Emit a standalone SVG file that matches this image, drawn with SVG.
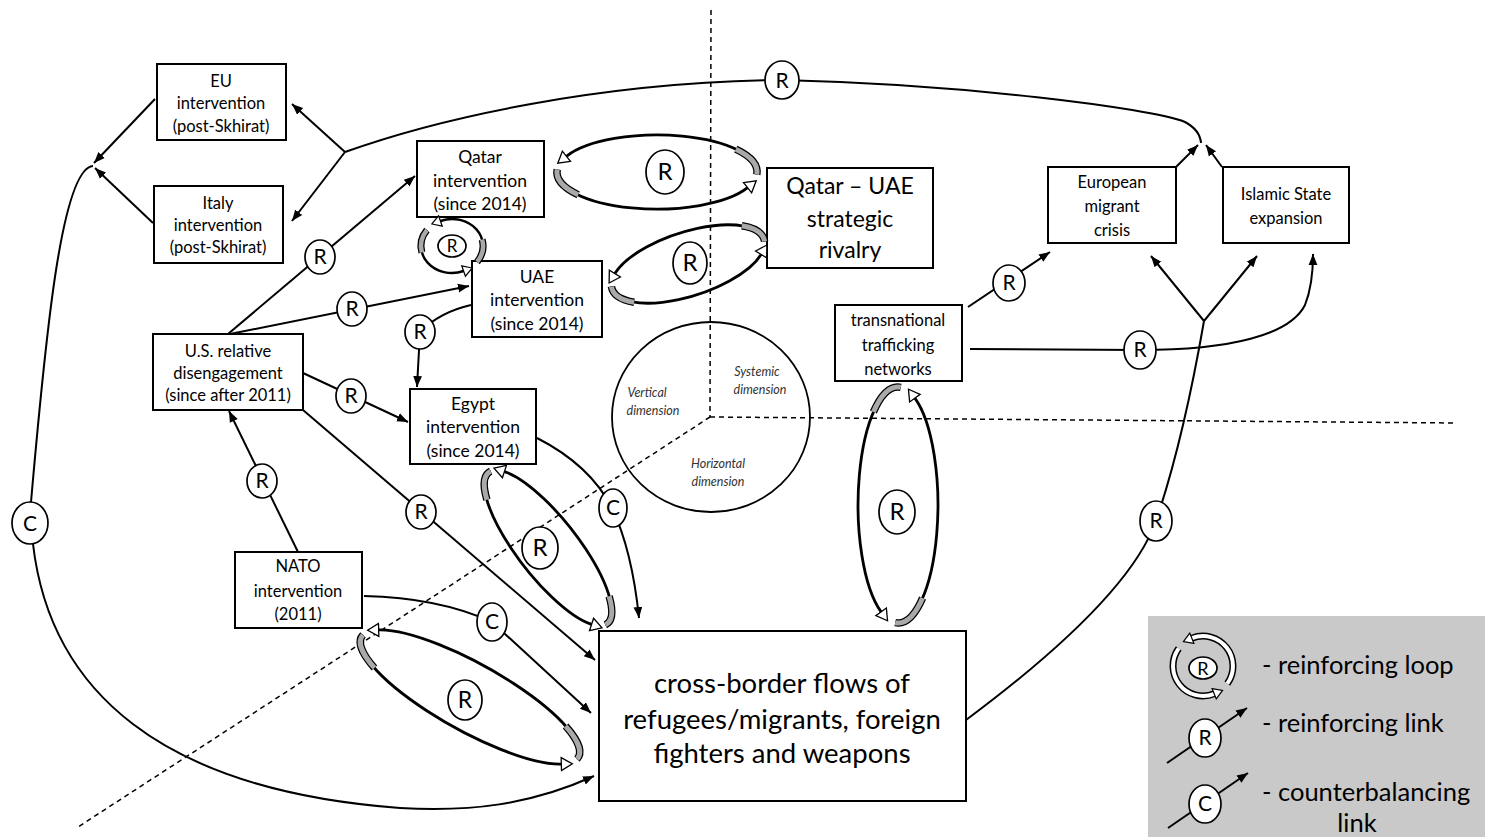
<svg xmlns="http://www.w3.org/2000/svg" width="1485" height="837" viewBox="0 0 1485 837">
<style>
.bg{fill:#fff}
.box{fill:#fff;stroke:#000;stroke-width:2}
.t{font-family:Lato,'Open Sans','Liberation Sans',sans-serif;fill:#000;text-anchor:middle}
.s15{font-size:16.5px}
.s16{font-size:17.5px}
.dim{font-family:Lato,'Open Sans','Liberation Sans',sans-serif;font-style:italic;font-size:12.5px;fill:#333;text-anchor:middle}
.ln{fill:none;stroke:#000;stroke-width:2}
.arr{marker-end:url(#ah)}
.dash{fill:none;stroke:#000;stroke-width:1.5;stroke-dasharray:5 4}
.rc{fill:#fff;stroke:#000;stroke-width:1.7}
.rt{font-family:Lato,'Open Sans','Liberation Sans',sans-serif;font-size:21px;fill:#000;text-anchor:middle}
.la{fill:none;stroke:#000;stroke-width:2.8;marker-end:url(#lh)}
.lto{fill:none;stroke:#000;stroke-width:7.5}
.lti{fill:none;stroke:#a9a9a9;stroke-width:5}
.lwi{fill:none;stroke:#fff;stroke-width:4.5}
.leg{font-family:Lato,'Open Sans','Liberation Sans',sans-serif;font-size:25.5px;fill:#000}
</style>
<defs>
<marker id="ah" viewBox="0 0 10 10" refX="10" refY="5" markerWidth="11" markerHeight="11" markerUnits="userSpaceOnUse" orient="auto"><path d="M0,1 L10,5 L0,9 Z" fill="#000"/></marker>
<marker id="lh" viewBox="-1 -8 14 16" refX="0" refY="0" markerWidth="14" markerHeight="16" markerUnits="userSpaceOnUse" orient="auto"><path d="M0,-6.5 L11,0 L0,6.5 Z" fill="#fff" stroke="#000" stroke-width="1.3"/></marker>
<marker id="lhs" viewBox="-1 -7 12 14" refX="0" refY="0" markerWidth="12" markerHeight="14" markerUnits="userSpaceOnUse" orient="auto"><path d="M0,-5.5 L9,0 L0,5.5 Z" fill="#fff" stroke="#000" stroke-width="1.2"/></marker>
</defs>
<rect class="bg" x="0" y="0" width="1485" height="837"/>

<g id="axes">
<path class="dash" d="M711,10 L710,417"/>
<path class="dash" d="M710,417 L1457,423"/>
<path class="dash" d="M710,417 L78,827"/>
<ellipse cx="711" cy="417" rx="99" ry="95" fill="none" stroke="#000" stroke-width="1.8"/>
<text class="dim" x="647" y="397">Vertical</text>
<text class="dim" x="653" y="415">dimension</text>
<text class="dim" x="757" y="376">Systemic</text>
<text class="dim" x="760" y="394">dimension</text>
<text class="dim" x="718" y="468">Horizontal</text>
<text class="dim" x="718" y="486">dimension</text>
</g>

<g id="connectors">
<path class="ln" d="M345,152 C440,118 600,82 782,80 C960,84 1150,108 1185,122 Q1200,130 1201,143"/>
<path class="ln arr" d="M345,152 L292,104"/>
<path class="ln arr" d="M345,152 L292,221"/>
<path class="ln arr" d="M155,99 L94,163"/>
<path class="ln arr" d="M153,223 L95,168"/>
<path class="ln" d="M93,166 C62,168 46,330 31,502"/>
<path class="ln" d="M33,544 C50,690 160,790 400,808 C470,812 530,805 594,776" marker-end="url(#ah)"/>
<path class="ln arr" d="M228,334 L415,176"/>
<path class="ln arr" d="M230,334 L469,286"/>
<path class="ln arr" d="M471,305 Q440,312 420,332 L417,387"/>
<path class="ln arr" d="M303,373 L408,422"/>
<path class="ln arr" d="M303,410 L595,660"/>
<path class="ln arr" d="M298,552 L229,411"/>
<path class="ln arr" d="M364,596 C410,597 455,605 492,622 L591,713"/>
<path class="ln arr" d="M537,438 Q590,465 612,508 Q632,550 639,618"/>
<path class="ln arr" d="M968,307 L1050,252"/>
<path class="ln arr" d="M970,349 L1140,350 C1230,350 1290,335 1305,305 Q1313,285 1313,254"/>
<path class="ln" d="M966,720 C1060,650 1135,580 1156,521 C1175,465 1192,390 1204,321"/>
<path class="ln arr" d="M1204,321 L1151,256"/>
<path class="ln arr" d="M1204,321 L1257,256"/>
<path class="ln arr" d="M1176,167 L1198,145"/>
<path class="ln arr" d="M1222,167 L1206,145"/>

<ellipse class="rc" cx="782" cy="80" rx="17" ry="19"/><text class="rt" x="782" y="88">R</text>
<ellipse class="rc" cx="30" cy="523" rx="18" ry="21"/><text class="rt" x="30" y="531">C</text>
<ellipse class="rc" cx="320" cy="257" rx="15" ry="17"/><text class="rt" x="320" y="264">R</text>
<ellipse class="rc" cx="352" cy="309" rx="15" ry="17"/><text class="rt" x="352" y="316">R</text>
<ellipse class="rc" cx="420" cy="332" rx="15" ry="17"/><text class="rt" x="420" y="339">R</text>
<ellipse class="rc" cx="351" cy="396" rx="15" ry="17"/><text class="rt" x="351" y="403">R</text>
<ellipse class="rc" cx="421" cy="512" rx="15" ry="17"/><text class="rt" x="421" y="519">R</text>
<ellipse class="rc" cx="262" cy="481" rx="15" ry="17"/><text class="rt" x="262" y="488">R</text>
<ellipse class="rc" cx="492" cy="622" rx="15" ry="19"/><text class="rt" x="492" y="629">C</text>
<ellipse class="rc" cx="613" cy="508" rx="14" ry="19"/><text class="rt" x="613" y="515">C</text>
<ellipse class="rc" cx="1009" cy="283" rx="16" ry="18"/><text class="rt" x="1009" y="290">R</text>
<ellipse class="rc" cx="1140" cy="350" rx="16" ry="19"/><text class="rt" x="1140" y="357">R</text>
<ellipse class="rc" cx="1156" cy="521" rx="16" ry="20"/><text class="rt" x="1156" y="528">R</text>
</g>

<g id="eu"><rect class="box" x="157" y="64" width="129" height="76"/>
<text class="t s15" x="221" y="87">EU</text><text class="t s15" x="221" y="109">intervention</text><text class="t s15" x="221" y="132">(post-Skhirat)</text></g>
<g id="italy"><rect class="box" x="154" y="186" width="129" height="77"/>
<text class="t s15" x="218" y="209">Italy</text><text class="t s15" x="218" y="231">intervention</text><text class="t s15" x="218" y="253">(post-Skhirat)</text></g>
<g id="qatar"><rect class="box" x="417" y="141" width="127" height="76"/>
<text class="t s16" x="480" y="163">Qatar</text><text class="t s16" x="480" y="187">intervention</text><text class="t s16" x="480" y="210">(since 2014)</text></g>
<g id="uae"><rect class="box" x="472" y="261" width="130" height="76"/>
<text class="t s16" x="537" y="283">UAE</text><text class="t s16" x="537" y="306">intervention</text><text class="t s16" x="537" y="330">(since 2014)</text></g>
<g id="rivalry"><rect class="box" x="767" y="168" width="166" height="100"/>
<text class="t" style="font-size:23px" x="850" y="194">Qatar – UAE</text><text class="t" style="font-size:23px" x="850" y="227">strategic</text><text class="t" style="font-size:23px" x="850" y="258">rivalry</text></g>
<g id="us"><rect class="box" x="153" y="334" width="150" height="76"/>
<text class="t s15" x="228" y="357">U.S. relative</text><text class="t s15" x="228" y="379">disengagement</text><text class="t s15" x="228" y="401">(since after 2011)</text></g>
<g id="egypt"><rect class="box" x="410" y="389" width="126" height="75"/>
<text class="t s16" x="473" y="410">Egypt</text><text class="t s16" x="473" y="433">intervention</text><text class="t s16" x="473" y="457">(since 2014)</text></g>
<g id="nato"><rect class="box" x="235" y="552" width="127" height="76"/>
<text class="t s15" x="298" y="572">NATO</text><text class="t s15" x="298" y="597">intervention</text><text class="t s15" x="298" y="620">(2011)</text></g>
<g id="trafficking"><rect class="box" x="835" y="305" width="127" height="76"/>
<text class="t s15" x="898" y="326">transnational</text><text class="t s15" x="898" y="351">trafficking</text><text class="t s15" x="898" y="375">networks</text></g>
<g id="european"><rect class="box" x="1048" y="167" width="128" height="76"/>
<text class="t s15" x="1112" y="188">European</text><text class="t s15" x="1112" y="212">migrant</text><text class="t s15" x="1112" y="236">crisis</text></g>
<g id="islamic"><rect class="box" x="1223" y="167" width="126" height="76"/>
<text class="t s15" x="1286" y="200">Islamic State</text><text class="t s15" x="1286" y="224">expansion</text></g>
<g id="flows"><rect class="box" x="599" y="631" width="367" height="170"/>
<text class="t" style="font-size:27.5px" x="782" y="693">cross-border flows of</text><text class="t" style="font-size:27.5px" x="782" y="729">refugees/migrants, foreign</text><text class="t" style="font-size:27.5px" x="782" y="763">fighters and weapons</text></g>

<g id="loops">
<g transform="translate(657,172)">
<g id="l1a"><path class="la" d="M99.8,2.6 A100 37 0 0 0 -90.6,-15.7"/><path class="lto" d="M99.8,2.6 A100 37 0 0 0 78.8,-22.8"/><path class="lti" d="M99.8,2.6 A100 37 0 0 0 78.8,-22.8"/></g>
<use href="#l1a" transform="rotate(180)"/>
</g>
<ellipse class="rc" cx="665" cy="172" rx="19" ry="22"/><text class="rt" style="font-size:24px" x="665" y="180">R</text>

<g transform="translate(688,264) rotate(-18)">
<g id="l2a"><path class="la" d="M79.8,2.2 A80 32 0 0 0 -72.5,-13.5"/><path class="lto" d="M79.8,2.2 A80 32 0 0 0 63,-19.7"/><path class="lti" d="M79.8,2.2 A80 32 0 0 0 63,-19.7"/></g>
<use href="#l2a" transform="rotate(180)"/>
</g>
<ellipse class="rc" cx="690" cy="263" rx="17" ry="21"/><text class="rt" style="font-size:24px" x="690" y="271">R</text>

<g transform="translate(452,246)">
<g id="l3a"><path class="la" style="stroke-width:2.4;marker-end:url(#lhs)" d="M25.1,15.9 A31 27 0 0 0 -11.6,-25"/><path class="lto" style="stroke-width:7" d="M25.1,15.9 A31 27 0 0 0 30.1,-6.5"/><path class="lti" style="stroke-width:4.5" d="M25.1,15.9 A31 27 0 0 0 30.1,-6.5"/></g>
<use href="#l3a" transform="rotate(180)"/>
<ellipse class="rc" cx="0" cy="0" rx="14" ry="11"/><text class="rt" style="font-size:17px" x="0" y="6">R</text>
</g>

<g transform="translate(548,548) rotate(52)">
<g id="l4a"><path class="la" d="M95.8,2.1 A96 30 0 0 0 -87,-12.7"/><path class="lto" d="M95.8,2.1 A96 30 0 0 0 75.6,-18.5"/><path class="lti" d="M95.8,2.1 A96 30 0 0 0 75.6,-18.5"/></g>
<use href="#l4a" transform="rotate(180)"/>
</g>
<ellipse class="rc" cx="540" cy="548" rx="18" ry="21"/><text class="rt" style="font-size:24px" x="540" y="556">R</text>

<g transform="translate(470,697) rotate(29)">
<g id="l5a"><path class="la" d="M123.7,2.4 A124 34 0 0 0 -112.4,-14.4"/><path class="lto" d="M123.7,2.4 A124 34 0 0 0 97.7,-20.9"/><path class="lti" d="M123.7,2.4 A124 34 0 0 0 97.7,-20.9"/></g>
<use href="#l5a" transform="rotate(180)"/>
</g>
<ellipse class="rc" cx="465" cy="700" rx="17" ry="20"/><text class="rt" style="font-size:23px" x="465" y="708">R</text>

<g transform="translate(898,505) rotate(90)">
<g id="l6a"><path class="la" d="M117.7,2.8 A118 40 0 0 0 -106.9,-16.9"/><path class="lto" d="M117.7,2.8 A118 40 0 0 0 93,-24.6"/><path class="lti" d="M117.7,2.8 A118 40 0 0 0 93,-24.6"/></g>
<use href="#l6a" transform="rotate(180)"/>
</g>
<ellipse class="rc" cx="897" cy="512" rx="18" ry="22"/><text class="rt" style="font-size:24px" x="897" y="520">R</text>
</g>

<g id="legend">
<rect x="1148" y="616" width="337" height="221" fill="#c9c9c9"/>
<g transform="translate(1203,666)">
<g id="lga"><path class="lto" style="stroke-width:7" d="M24.3,17.6 A30 30 0 0 0 -11.2,-27.8"/><path class="lwi" style="stroke-width:4" d="M24.3,17.6 A30 30 0 0 0 -11.2,-27.8" marker-end="url(#lhs)"/></g>
<use href="#lga" transform="rotate(180)"/>
<ellipse class="rc" cx="0" cy="2" rx="14" ry="11"/><text class="rt" style="font-size:18px" x="0" y="9">R</text>
</g>
<text class="leg" x="1262" y="674">- reinforcing loop</text>
<path class="ln arr" d="M1167,763 L1247,708"/>
<ellipse class="rc" cx="1205" cy="738" rx="16" ry="19"/><text class="rt" x="1205" y="745">R</text>
<text class="leg" x="1262" y="732">- reinforcing link</text>
<path class="ln arr" d="M1168,828 L1248,773"/>
<ellipse class="rc" cx="1205" cy="804" rx="16" ry="19"/><text class="rt" x="1205" y="811">C</text>
<text class="leg" x="1262" y="801">- counterbalancing</text>
<text class="leg" x="1357" y="832" text-anchor="middle">link</text>
</g>
</svg>
